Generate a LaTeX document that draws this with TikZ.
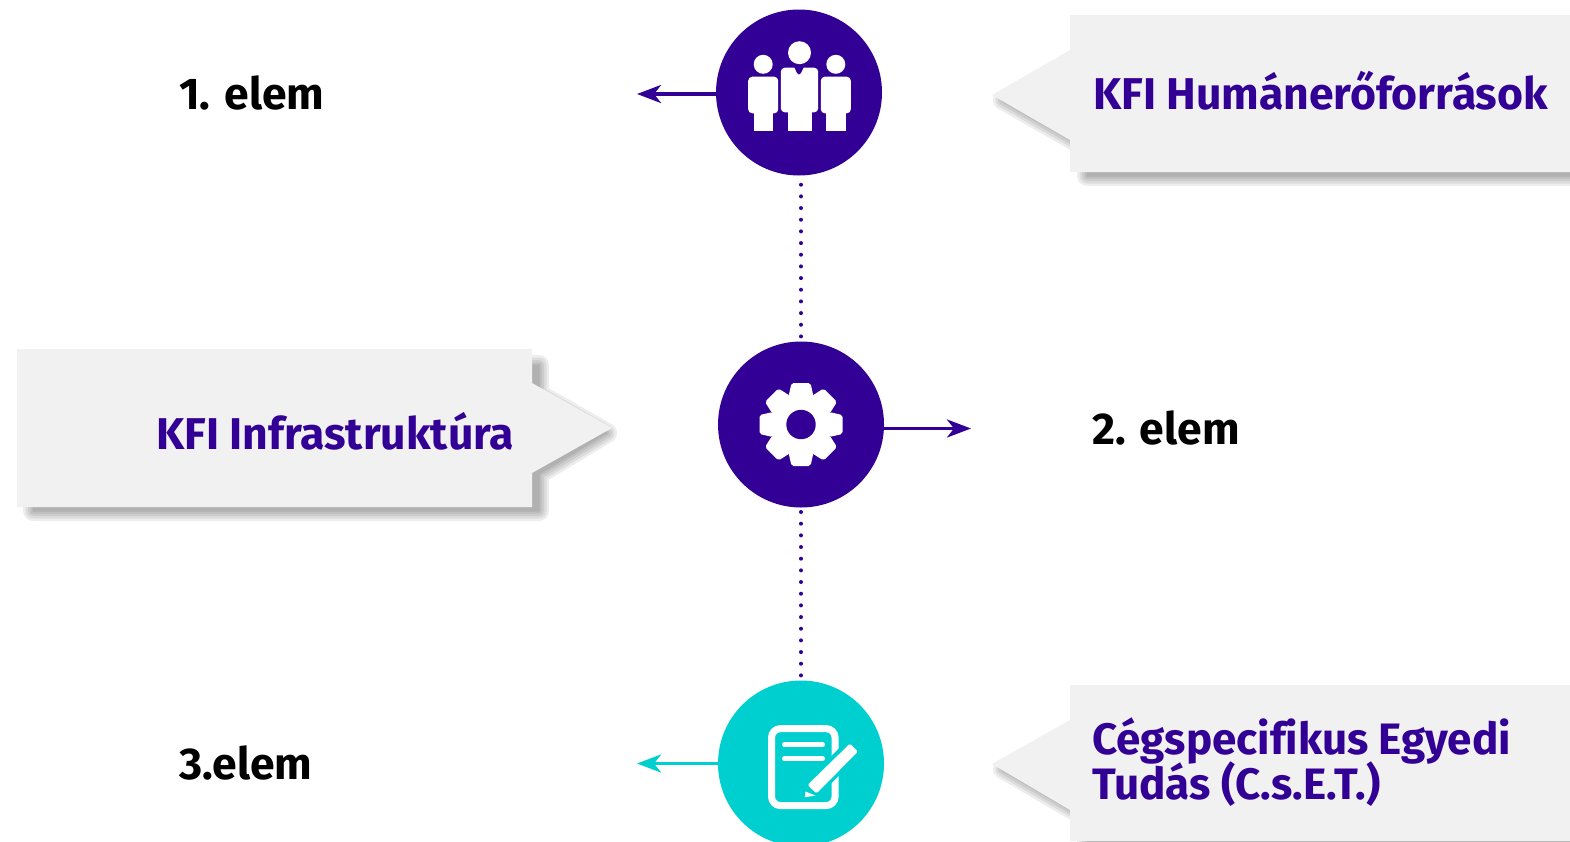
\documentclass[tikz,border=0pt]{standalone}
\usepackage{fontspec}
\setmainfont[Ligatures=NoCommon]{Fira Sans}
\usetikzlibrary{arrows.meta}
\definecolor{hubpurple}{HTML}{330096}
\definecolor{hubteal}{HTML}{00CFCF}
\definecolor{boxgray}{HTML}{F1F1F1}
\tikzset{
    hub/.style={
           circle,
           fill=hubpurple,
           minimum size=166pt,
           inner sep=0pt,
           },
    boxtext/.style={
           anchor=base west,
           align=left,
           inner sep=0pt,
           text=hubpurple,
           font=\fontsize{44.5}{45}\selectfont\bfseries,
           },
    elemtext/.style={
           boxtext,
           text=black,
           },
    dotlink/.style={
           hubpurple,
           line width=4pt,
           line cap=round,
           dash pattern=on 0.01pt off 11.66pt,
           },
    elemlink/.style={
           hubpurple,
           line width=3.5pt,
           -{Stealth[length=24pt,width=18pt,inset=7pt]},
           },
    shadowlayer/.style={
           fill=black,
           draw=black,
           line join=round,
           },
}
% blurred shadow from stacked layers
\newcommand{\softshadow}[1]{%
  \foreach \w in {20,15,10,5,1} {
    \begin{scope}[transparency group,opacity=.07]
      \path[shadowlayer,line width=\w pt,shift={(7,8)}] #1;
    \end{scope}
  }
}
\begin{document}
\begin{tikzpicture}[x=1pt,y=-1pt]
 \useasboundingbox (0,0) rectangle (1570,841);
 % callouts
 \softshadow{(1078,23) -- (1600,23) -- (1600,168) -- (1080,168) -- (1080,140) -- (996,92) -- (1070,60) -- cycle}
 \fill[boxgray] (1070,15) -- (1570,15) -- (1570,172) -- (1070,172) -- (1070,140) -- (992,95) -- (1070,50) -- cycle;
 \softshadow{(26,357) -- (532,357) -- (532,386) -- (600,425) -- (532,466) -- (532,503) -- (26,503) -- cycle}
 \fill[boxgray] (17,349) -- (532,349) -- (532,383) -- (612,428) -- (532,473) -- (532,507) -- (17,507) -- cycle;
 \softshadow{(1078,693) -- (1600,693) -- (1600,880) -- (1080,880) -- (1080,810) -- (996,761) -- (1070,730) -- cycle}
 \fill[boxgray] (1070,685) -- (1570,685) -- (1570,841) -- (1070,841) -- (1070,810) -- (992,764) -- (1070,720) -- cycle;

 % hubs
 \node[hub] (people) at (799,92.5) {};
 \node[hub] (gear) at (801,424.5) {};
 \node[hub,fill=hubteal] (note) at (801,763.5) {};

 % connectors
 \coordinate (peopleend) at (637,94);
 \coordinate (gearend) at (971,428.5);
 \coordinate (noteend) at (637,763.5);
 \draw[elemlink] (peopleend -| people.west) -- (peopleend);
 \draw[elemlink] (gearend -| gear.east) -- (gearend);
 \draw[elemlink,hubteal] (note.west) -- (noteend);
 \draw[dotlink,shorten <=9pt,shorten >=2pt] (gear.north |- people.south) -- (gear.north);
 \draw[dotlink,shorten <=4.3pt,shorten >=3pt] (gear.south) -- (note.north);

 % people icon
 \fill[white] (763.2,64.3) circle (9.5);
 \fill[white] (835.8,64.3) circle (9.5);
 \fill[white] (799.5,52.7) circle (11.5);
 \fill[white,rounded corners=4pt] (748.2,76.7) rectangle (778.2,113.3);
 \fill[white] (753.5,105) rectangle (773.2,130.7);
 \fill[white,rounded corners=4pt] (820.8,76.7) rectangle (850.8,113.3);
 \fill[white] (825.8,105) rectangle (845.8,130.7);
 \fill[white,rounded corners=4pt] (780.8,67.7) rectangle (818.2,112.3);
 \fill[white] (787.5,105) rectangle (811.8,130.7);
 \fill[hubpurple] (794,66.5) -- (804,66.5) -- (801,73) -- (799,74.5) -- (797,73) -- cycle;

 % gear icon
 \fill[white] (gear) circle (31);
 \foreach \a in {0,45,...,315} {
   \fill[white,shift={(gear)},rotate=\a,rounded corners=2pt] (-12.5,-28) -- (-9.5,-41.5) -- (9.5,-41.5) -- (12.5,-28) -- cycle;
 }
 \fill[hubpurple] (gear) circle (14.7);

 % note icon
 \draw[white,line width=7pt,rounded corners=9pt] (771.5,728.6) rectangle (835.1,805.6);
 \draw[white,line width=5pt,line cap=round] (784.5,744.7) -- (822.5,744.7);
 \draw[white,line width=5pt,line cap=round] (784.5,758.7) -- (822.5,758.7);
 \fill[white,draw=hubteal,line width=5pt,line join=round] (850,741) -- (859.5,751) -- (816.5,795) -- (806,785) -- cycle;
 \fill[white,rounded corners=1.5pt] (850,743.5) -- (858,751.5) -- (816.5,793.5) -- (807.5,785) -- cycle;
 \fill[white] (804.8,797.3) -- (805.5,791.5) -- (815.5,795.5) -- cycle;

 % labels
 \node[elemtext] (elem1) at (179,109) {1. elem};
 \node[elemtext] (elem2) at (1092,444) {2. elem};
 \node[elemtext] (elem3) at (179,779) {3.elem};
 \node[boxtext] (hrtext) at (1093,109) {KFI Humánerőforrások};
 \node[boxtext] (infratext) at (156,449) {KFI Infrastruktúra};
 \node[boxtext,font=\fontsize{44}{45}\selectfont\bfseries] (csettext) at (1092,799) {Cégspecifikus Egyedi\\[-4pt]Tudás (C.s.E.T.)};
\end{tikzpicture}
\end{document}
